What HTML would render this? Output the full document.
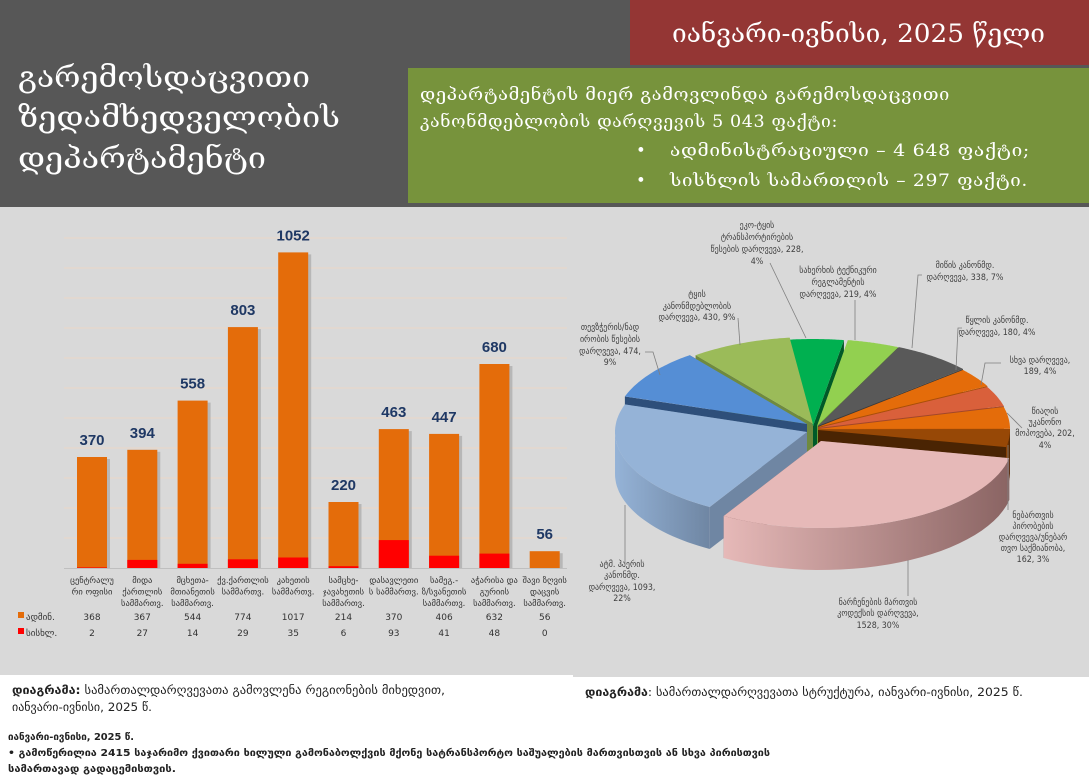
<!DOCTYPE html>
<html><head><meta charset="utf-8">
<style>
html,body{margin:0;padding:0;background:#fff;}
body{width:1089px;height:784px;overflow:hidden;position:relative;font-family:"DejaVu Sans","Liberation Sans",sans-serif;}
svg{position:absolute;left:0;top:0;}
</style></head><body>
<svg id="s" width="1089" height="784" viewBox="0 0 1089 784" xmlns="http://www.w3.org/2000/svg">
<rect x="0" y="0" width="1089" height="207" fill="#575757"/>
<rect x="630" y="0" width="459" height="65" fill="#943634"/>
<rect x="408" y="68" width="681" height="135" fill="#77933c"/>
<rect x="0" y="207" width="573" height="468" fill="#d9d9d9"/>
<rect x="573" y="207" width="516" height="470" fill="#d9d9d9"/>
<g font-family="'DejaVu Serif','Liberation Serif',serif" fill="#fff">
<text x="18" y="87" font-size="29" textLength="292" lengthAdjust="spacingAndGlyphs">გარემოსდაცვითი</text>
<text x="18" y="127" font-size="29" textLength="322" lengthAdjust="spacingAndGlyphs">ზედამხედველობის</text>
<text x="18" y="168" font-size="29" textLength="248" lengthAdjust="spacingAndGlyphs">დეპარტამენტი</text>
<text x="672" y="42" font-size="25" textLength="373" lengthAdjust="spacingAndGlyphs">იანვარი-ივნისი, 2025 წელი</text>
<g font-size="16.5" letter-spacing="0.6">
<text x="420" y="100" textLength="530" lengthAdjust="spacingAndGlyphs">დეპარტამენტის  მიერ  გამოვლინდა  გარემოსდაცვითი</text>
<text x="420" y="127" textLength="418" lengthAdjust="spacingAndGlyphs">კანონმდებლობის  დარღვევის  5 043  ფაქტი:</text>
<text x="636" y="156">•</text><text x="670" y="156" textLength="360" lengthAdjust="spacingAndGlyphs">ადმინისტრაციული  –  4  648  ფაქტი;</text>
<text x="636" y="186">•</text><text x="670" y="186" textLength="358" lengthAdjust="spacingAndGlyphs">სისხლის  სამართლის  –  297  ფაქტი.</text>
</g></g>
<g id="bars"></g>
<g id="pie"></g>
<g font-family="'DejaVu Sans Condensed','DejaVu Sans',sans-serif" fill="#222" font-size="11.5">
<text x="12" y="694" textLength="433" lengthAdjust="spacingAndGlyphs"><tspan font-weight="bold">დიაგრამა:</tspan>  სამართალდარღვევათა გამოვლენა რეგიონების მიხედვით,</text>
<text x="12" y="711" textLength="140" lengthAdjust="spacingAndGlyphs">იანვარი-ივნისი, 2025 წ.</text>
<text x="585" y="696" textLength="438" lengthAdjust="spacingAndGlyphs"><tspan font-weight="bold">დიაგრამა</tspan>: სამართალდარღვევათა სტრუქტურა,  იანვარი-ივნისი, 2025 წ.</text>
<g font-weight="bold" font-size="10">
<text x="8" y="740" textLength="126" lengthAdjust="spacingAndGlyphs">იანვარი-ივნისი, 2025 წ.</text>
<text x="8" y="756" textLength="762" lengthAdjust="spacingAndGlyphs">• გამოწერილია 2415 საჯარიმო ქვითარი ხილული გამონაბოლქვის მქონე სატრანსპორტო საშუალების მართვისთვის ან სხვა პირისთვის</text>
<text x="8" y="772" textLength="168" lengthAdjust="spacingAndGlyphs">სამართავად გადაცემისთვის.</text>
</g></g>
</svg>
<script>
const NS="http://www.w3.org/2000/svg";
function el(p,t,a,txt){const e=document.createElementNS(NS,t);for(const k in a)e.setAttribute(k,a[k]);if(txt!==undefined)e.textContent=txt;p.appendChild(e);return e;}
const B=document.getElementById('bars');
for(let i=0;i<11;i++){const y=568-30*(i+1);el(B,'line',{x1:64,x2:567,y1:y,y2:y,stroke:'#ecd6c6','stroke-width':1});}
el(B,'line',{x1:64,x2:567,y1:568.5,y2:568.5,stroke:'#bfbfbf','stroke-width':1});
const adm=[368,367,544,774,1017,214,370,406,632,56],sis=[2,27,14,29,35,6,93,41,48,0];
const cats=[["ცენტრალუ","რი ოფისი"],["მიდა","ქართლის","სამმართვ."],["მცხეთა-","მთიანეთის","სამმართვ."],["ქვ.ქართლის","სამმართვ."],["კახეთის","სამმართვ."],["სამცხე-","ჯავახეთის","სამმართვ."],["დასავლეთი","ს სამმართვ."],["სამეგ.-","ზ/სვანეთის","სამმართვ."],["აჭარისა და","გურიის","სამმართვ."],["შავი ზღვის","დაცვის","სამმართვ."]];
for(let i=0;i<10;i++){const x=77+50.3*i,w=30,t=adm[i]+sis[i];const h=t*0.3,hs=sis[i]*0.3;
el(B,'rect',{x:x+3,y:568-h+2,width:w,height:h-2,fill:'#a0a0a0',opacity:0.6});
el(B,'rect',{x:x,y:568-h,width:w,height:h,fill:'#e46c0a'});
if(hs>0)el(B,'rect',{x:x,y:568-hs,width:w,height:hs,fill:'#ff0000'});
el(B,'text',{x:x+w/2,y:568-h-12,'text-anchor':'middle','font-size':15,'font-weight':'bold',fill:'#1f3864','font-family':"'Liberation Sans',sans-serif"},String(t));
const cx=x+w/2;cats[i].forEach((l,j)=>el(B,'text',{x:cx,y:583+j*11.5,'text-anchor':'middle','font-size':8.5,fill:'#333'},l));
el(B,'text',{x:cx,y:620,'text-anchor':'middle','font-size':9,fill:'#333'},String(adm[i]));
el(B,'text',{x:cx,y:636,'text-anchor':'middle','font-size':9,fill:'#333'},String(sis[i]));}
el(B,'rect',{x:18,y:612,width:6,height:6,fill:'#e46c0a'});el(B,'text',{x:26,y:620,'font-size':9,fill:'#333'},'ადმინ.');
el(B,'rect',{x:18,y:628,width:6,height:6,fill:'#ff0000'});el(B,'text',{x:26,y:636,'font-size':9,fill:'#333'},'სისხლ.');
const P=document.getElementById('pie');
const cx=815,cy=429,rx=192,ry=87,D=42;
const vals=[228,219,338,180,189,202,162,1528,1093,474,430];
const cols=['#00b050','#92d050','#595959','#e46c0a','#d9603b','#e46c0a','#974806','#e6b9b8','#95b3d7','#558ed5','#9bbb59'];
const side=['#005a28','#6d9c3a','#3a3a3a','#a94f07','#a2472c','#a94f07','#4a2403','#8a6463','#6f86a3','#2e4f7a','#6f8a3f'];
const off=[[-2,-3],[2,-3],[3,-3],[3,-2],[3,-1],[3,0],[3,1],[6,12],[-8,3],[-8,-5],[-2,-5]];
const tot=vals.reduce((a,b)=>a+b);let a=-7;const sl=[];
vals.forEach((v,i)=>{const d=v/tot*360;sl.push([a,a+d,i]);a+=d;});
function pt(t,dx,dy,z){const r=t*Math.PI/180;return [cx+dx+rx*Math.sin(r),cy+dy-ry*Math.cos(r)+(z||0)];}
function arc(t1,t2,dx,dy,z,n){let s='';for(let k=0;k<=n;k++){const p=pt(t1+(t2-t1)*k/n,dx,dy,z);s+=(k?'L':'')+p[0].toFixed(1)+' '+p[1].toFixed(1)+' ';}return s;}
const faces=[];
sl.forEach(([t1,t2,i])=>{const [dx,dy]=off[i];
 [t1,t2].forEach(t=>{const p=pt(t,dx,dy),c=[cx+dx,cy+dy];
  faces.push({z:(p[1]+c[1])/2,d:`M${c[0]} ${c[1]} L${p[0]} ${p[1]} L${p[0]} ${p[1]+D} L${c[0]} ${c[1]+D}Z`,f:side[i]});});
 const s1=Math.max(t1,90),s2=Math.min(t2,270);
 if(s2>s1){const top=arc(s1,s2,dx,dy,0,30),bot=arc(s2,s1,dx,dy,D,30);
  const g='g'+i;const lg=el(P,'linearGradient',{id:g,x1:0,x2:1,y1:0,y2:0});
  el(lg,'stop',{offset:0,'stop-color':cols[i]});el(lg,'stop',{offset:1,'stop-color':side[i]});
  faces.push({z:1000,d:'M'+top+'L'+bot+'Z',f:`url(#${g})`});}
});
faces.sort((a,b)=>a.z-b.z).forEach(f=>el(P,'path',{d:f.d,fill:f.f}));
sl.forEach(([t1,t2,i])=>{const [dx,dy]=off[i];el(P,'path',{d:`M${cx+dx} ${cy+dy} L`+arc(t1,t2,dx,dy,0,40)+'Z',fill:cols[i]});});
const labels=[
[757,[228,240,252,264],["ეკო-ტყის","ტრანსპორტირების","წესების დარღვევა, 228,","4%"],[[770,263],[806,338]]],
[838,[273,285,297],["სახერხის ტექნიკური","რეგლამენტის","დარღვევა, 219, 4%"],[[855,300],[855,340]]],
[965,[268,280],["მიწის კანონმდ.","დარღვევა, 338, 7%"],[[922,275],[918,275],[912,348]]],
[997,[323,335],["წყლის კანონმდ.","დარღვევა, 180, 4%"],[[962,328],[958,328],[956,370]]],
[1040,[363,374],["სხვა დარღვევა,","189, 4%"],[[1001,363],[985,363],[981,385]]],
[1045,[414,425,436,448],["წიაღის","უკანონო","მოპოვება, 202,","4%"],[[1022,428],[1007,413]]],
[1033,[518,529,540,551,562],["ნებართვის","პირობების","დარღვევა/უნებარ","თვო საქმიანობა,","162, 3%"],[[1008,445],[1008,510]]],
[878,[605,616,628],["ნარჩენების მართვის","კოდექსის დარღვევა,","1528, 30%"],[[908,560],[908,596]]],
[622,[567,578,590,601],["ატმ. ჰაერის","კანონმდ.","დარღვევა, 1093,","22%"],[[625,505],[625,566]]],
[610,[330,342,354,365],["თევზჭერის/ნად","ირობის წესების","დარღვევა, 474,","9%"],[[645,352],[653,352],[660,375]]],
[697,[297,309,320],["ტყის","კანონმდებლობის","დარღვევა, 430, 9%"],[[738,318],[740,345]]]];
labels.forEach(([x,ys,ls,ln])=>{ls.forEach((l,j)=>el(P,'text',{x:x,y:ys[j],'text-anchor':'middle','font-size':8.8,fill:'#404040','font-family':"'DejaVu Sans Condensed','DejaVu Sans',sans-serif"},l));
 el(P,'polyline',{points:ln.map(p=>p.join(',')).join(' '),fill:'none',stroke:'#7f7f7f','stroke-width':0.8});});
</script>
</body></html>
